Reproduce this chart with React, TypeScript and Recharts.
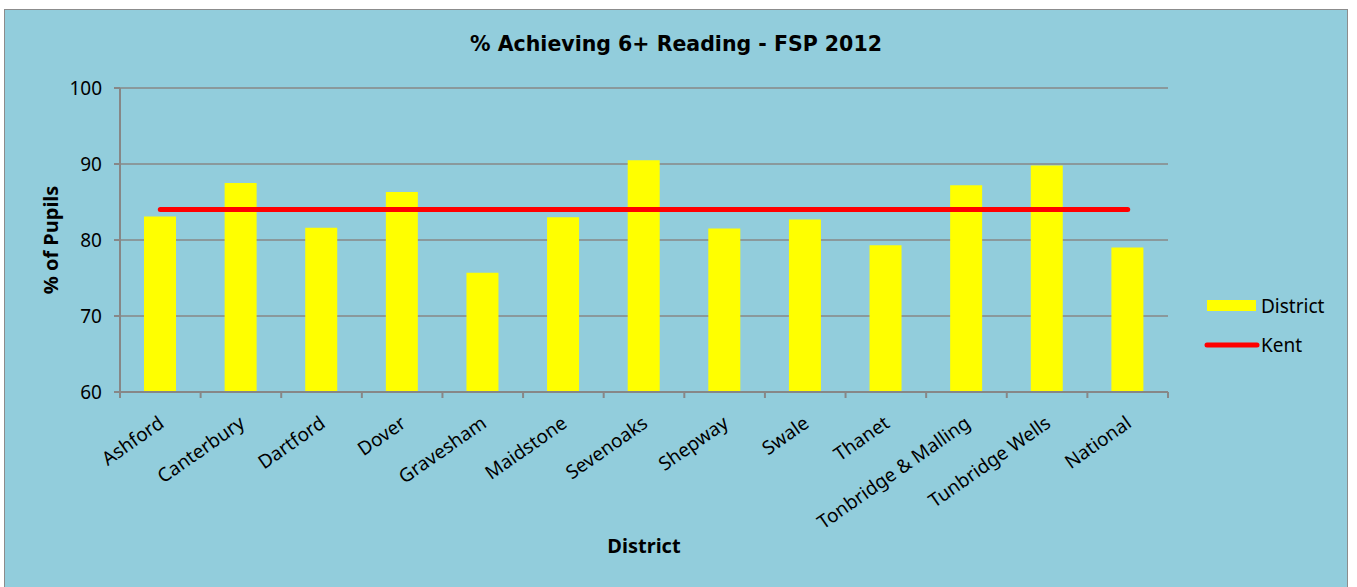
import * as React from "react"
import { Bar, CartesianGrid, ComposedChart, Label, Legend, Line, XAxis, YAxis } from "recharts"

const categories = [
  "Ashford",
  "Canterbury",
  "Dartford",
  "Dover",
  "Gravesham",
  "Maidstone",
  "Sevenoaks",
  "Shepway",
  "Swale",
  "Thanet",
  "Tonbridge & Malling",
  "Tunbridge Wells",
  "National",
]
const districtValues = [83.1, 87.5, 81.6, 86.3, 75.7, 83.0, 90.5, 81.5, 82.7, 79.3, 87.2, 89.8, 79.0]
const kentValues = [84, 84, 84, 84, 84, 84, 84, 84, 84, 84, 84, 84, 84]
const yTicks = [60, 70, 80, 90, 100]

const chartData = categories.map((name, i) => ({
  name,
  district: districtValues[i],
  kent: kentValues[i],
}))

const FONT = "'Noto Sans', 'DejaVu Sans', sans-serif"
const TITLE_FONT = "'DejaVu Sans', sans-serif"
const GRID = "#878787"
const BG = "#92CDDC"

function CategoryTick(props: any) {
  const { x, y, payload, index } = props
  const half = payload?.offset ?? 40.3
  const last = index === categories.length - 1
  return (
    <g>
      <line x1={x - half} y1={y} x2={x - half} y2={y + 6} stroke={GRID} strokeWidth={2} />
      {last && <line x1={x + half} y1={y} x2={x + half} y2={y + 6} stroke={GRID} strokeWidth={2} />}
      <text
        transform={`translate(${x + 5},${y + 34}) rotate(-35)`}
        textAnchor="end"
        fontSize={19}
        fontFamily={FONT}
        fill="#000"
      >
        {payload.value}
      </text>
    </g>
  )
}

function LegendContent(props: any) {
  const items = props.payload || []
  return (
    <div style={{ fontFamily: FONT, fontSize: 19, color: "#000" }}>
      {items.map((item: any) => (
        <div key={item.value} style={{ display: "flex", alignItems: "center", height: 39 }}>
          <svg width={57} height={20}>
            {item.type === "line" ? (
              <line x1={3} y1={10} x2={53} y2={10} stroke={item.color} strokeWidth={5} strokeLinecap="round" />
            ) : (
              <rect x={3} y={4} width={49} height={11} fill={item.color} />
            )}
          </svg>
          <span>{item.value}</span>
        </div>
      ))}
    </div>
  )
}

export default function App() {
  return (
    <div style={{ position: "fixed", left: 0, top: 0, width: 1357, height: 587, background: "#fff", overflow: "hidden" }}>
      <div
        style={{
          position: "absolute",
          left: 4,
          top: 9,
          width: 1342,
          height: 590,
          background: BG,
          border: "1px solid #8c8c8c",
        }}
      >
        <div
          style={{
            position: "absolute",
            left: 0,
            top: 22,
            width: 1342,
            textAlign: "center",
            fontFamily: TITLE_FONT,
            fontWeight: 700,
            fontSize: 20.5,
            color: "#000",
          }}
        >
          % Achieving 6+ Reading - FSP 2012
        </div>
        <ComposedChart
          width={1342}
          height={577}
          data={chartData}
          margin={{ top: 78, right: 179, bottom: 30, left: 35 }}
        >
          <CartesianGrid vertical={false} stroke={GRID} strokeWidth={1.5} />
          <XAxis
            dataKey="name"
            interval={0}
            height={165}
            tickSize={0}
            tickMargin={0}
            tickLine={false}
            axisLine={{ stroke: GRID, strokeWidth: 2 }}
            tick={<CategoryTick />}
          >
            <Label
              value="District"
              position="insideBottom"
              offset={4}
              style={{ fontFamily: FONT, fontWeight: 700, fontSize: 20, fill: "#000" }}
            />
          </XAxis>
          <YAxis
            width={80}
            domain={[60, 100]}
            ticks={yTicks}
            tickSize={6}
            tickMargin={12}
            tickLine={{ stroke: GRID, strokeWidth: 2 }}
            axisLine={{ stroke: GRID, strokeWidth: 2 }}
            tick={{ fontFamily: FONT, fontSize: 19, fill: "#000" }}
          >
            <Label
              content={({ viewBox }: any) => {
                const cx = viewBox.x + 10
                const cy = viewBox.y + viewBox.height / 2
                return (
                  <text
                    x={cx}
                    y={cy}
                    transform={`rotate(-90, ${cx}, ${cy})`}
                    textAnchor="middle"
                    dominantBaseline="central"
                    fontFamily={FONT}
                    fontWeight={700}
                    fontSize={20}
                    fill="#000"
                  >
                    % of Pupils
                  </text>
                )
              }}
            />
          </YAxis>
          <Legend
            layout="horizontal"
            align="center"
            verticalAlign="middle"
            wrapperStyle={{ left: 1199, top: 276, width: 140 }}
            content={<LegendContent />}
          />
          <Bar dataKey="district" name="District" fill="#FFFF00" barSize={32} legendType="rect" isAnimationActive={false} />
          <Line
            dataKey="kent"
            name="Kent"
            type="linear"
            stroke="#FF0000"
            strokeWidth={5}
            strokeLinecap="round"
            dot={false}
            activeDot={false}
            legendType="line"
            isAnimationActive={false}
          />
        </ComposedChart>
      </div>
    </div>
  )
}
